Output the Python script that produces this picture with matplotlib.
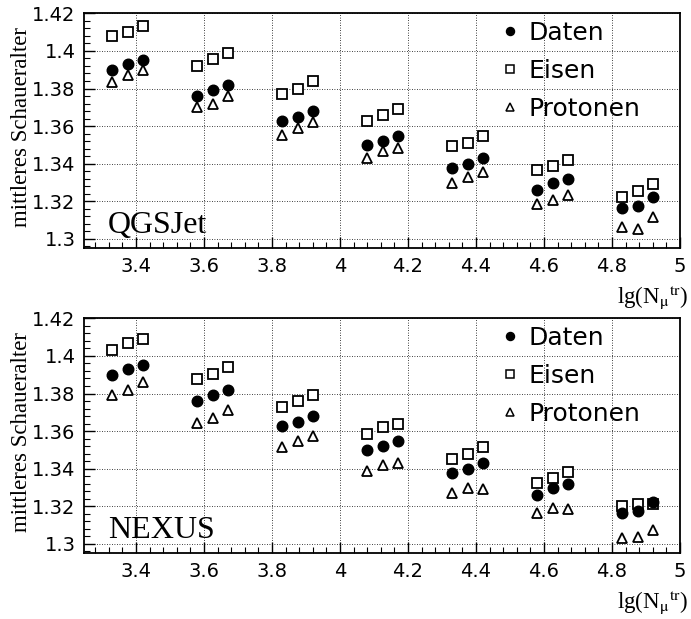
import matplotlib.pyplot as plt
from matplotlib.ticker import MultipleLocator

# lg(N_mu^tr) positions of the points (three per bin)
lg_n = [3.33, 3.375, 3.42, 3.58, 3.625, 3.67, 3.83, 3.875, 3.92,
        4.08, 4.125, 4.17, 4.33, 4.375, 4.42, 4.58, 4.625, 4.67,
        4.83, 4.875, 4.92]

daten = [1.390, 1.393, 1.395, 1.376, 1.379, 1.382, 1.3625, 1.365, 1.368,
         1.3497, 1.352, 1.355, 1.3375, 1.340, 1.343, 1.326, 1.3295, 1.332,
         1.3165, 1.3175, 1.3225]

qgs_eisen = [1.408, 1.410, 1.413, 1.392, 1.3955, 1.399, 1.377, 1.3795, 1.384,
             1.3626, 1.366, 1.369, 1.3495, 1.351, 1.3545, 1.3365, 1.339, 1.342,
             1.3225, 1.3255, 1.329]
qgs_protonen = [1.3836, 1.387, 1.390, 1.370, 1.372, 1.376, 1.3555, 1.359, 1.362,
                1.343, 1.3465, 1.3485, 1.330, 1.333, 1.3355, 1.3185, 1.3205, 1.3235,
                1.3065, 1.3055, 1.3115]

nexus_eisen = [1.403, 1.407, 1.409, 1.3875, 1.3905, 1.394, 1.373, 1.376, 1.379,
               1.3585, 1.362, 1.364, 1.345, 1.348, 1.3515, 1.3325, 1.335, 1.338,
               1.320, 1.321, 1.321]
nexus_protonen = [1.379, 1.382, 1.386, 1.3645, 1.367, 1.371, 1.3515, 1.3545, 1.3575,
                  1.339, 1.342, 1.343, 1.327, 1.3295, 1.329, 1.3165, 1.319, 1.3185,
                  1.303, 1.3035, 1.3074]

plt.rcParams['mathtext.fontset'] = 'stix'
serif = 'Liberation Serif'
sans = 'DejaVu Sans'

W, H = 691, 619
fig = plt.figure(figsize=(W / 100, H / 100), dpi=100)

panels = [
    ('QGSJet', qgs_eisen, qgs_protonen, 13.3),
    ('NEXUS', nexus_eisen, nexus_protonen, 318.3),
]

for name, eisen, protonen, top_px in panels:
    ax = fig.add_axes([84 / W, 1 - (top_px + 235) / H, 596 / W, 235 / H])
    ax.plot(lg_n, eisen, ls='none', marker='s', ms=7.4, mfc='white',
            mec='black', mew=1.3, label='Eisen', zorder=3)
    ax.plot(lg_n, daten, ls='none', marker='o', ms=7.6, color='black',
            label='Daten', zorder=4)
    ax.plot(lg_n, protonen, ls='none', marker='^', ms=7.6, mfc='white',
            mec='black', mew=1.3, label='Protonen', zorder=3)

    ax.set_xlim(3.247, 5.0)
    ax.set_ylim(1.295, 1.42)
    ax.xaxis.set_minor_locator(MultipleLocator(0.04))
    ax.yaxis.set_minor_locator(MultipleLocator(0.004))
    ax.tick_params(which='both', direction='in', top=False, right=False)
    ax.tick_params(which='major', length=8, width=1.0, labelsize=14, pad=6)
    ax.tick_params(which='minor', length=4, width=0.8)
    ax.set_xticks([3.4, 3.6, 3.8, 4.0, 4.2, 4.4, 4.6, 4.8, 5.0])
    ax.set_xticklabels(['3.4', '3.6', '3.8', '4', '4.2', '4.4', '4.6', '4.8', '5'])
    ax.set_yticks([1.3, 1.32, 1.34, 1.36, 1.38, 1.4, 1.42])
    ax.set_yticklabels(['1.3', '1.32', '1.34', '1.36', '1.38', '1.4', '1.42'])
    for lab in ax.get_xticklabels() + ax.get_yticklabels():
        lab.set_family(sans)
    ax.grid(True, which='major', color='black', ls=(0, (1, 2)), lw=0.6)
    for sp in ax.spines.values():
        sp.set_linewidth(1.3)

    ax.set_ylabel('mittleres Schaueralter', family=serif, fontsize=16.5)
    ax.yaxis.set_label_coords(-0.087, 0.516)
    ax.text(1.0 + 8 / 596, -0.232, r'lg(N$_{\mathrm{μ}}{}^{\rm tr}$)', transform=ax.transAxes,
            ha='right', va='baseline', family=serif, fontsize=16.5)
    ax.text(0.04, 0.065, name, transform=ax.transAxes, ha='left', va='baseline',
            family=serif, fontsize=23)

    h, l = ax.get_legend_handles_labels()
    order = [1, 0, 2]
    leg = ax.legend([h[i] for i in order], [l[i] for i in order],
                    loc='upper left', bbox_to_anchor=(0.69, 1.0), frameon=False,
                    prop={'family': sans, 'size': 18}, markerscale=0.75,
                    handlelength=0.6, handletextpad=0.45, labelspacing=0.56,
                    borderpad=0.3, borderaxespad=0.0)
    for hnd in leg.legend_handles:
        hnd.set_markeredgewidth(1.1)

fig.savefig('out.png', dpi=100)
